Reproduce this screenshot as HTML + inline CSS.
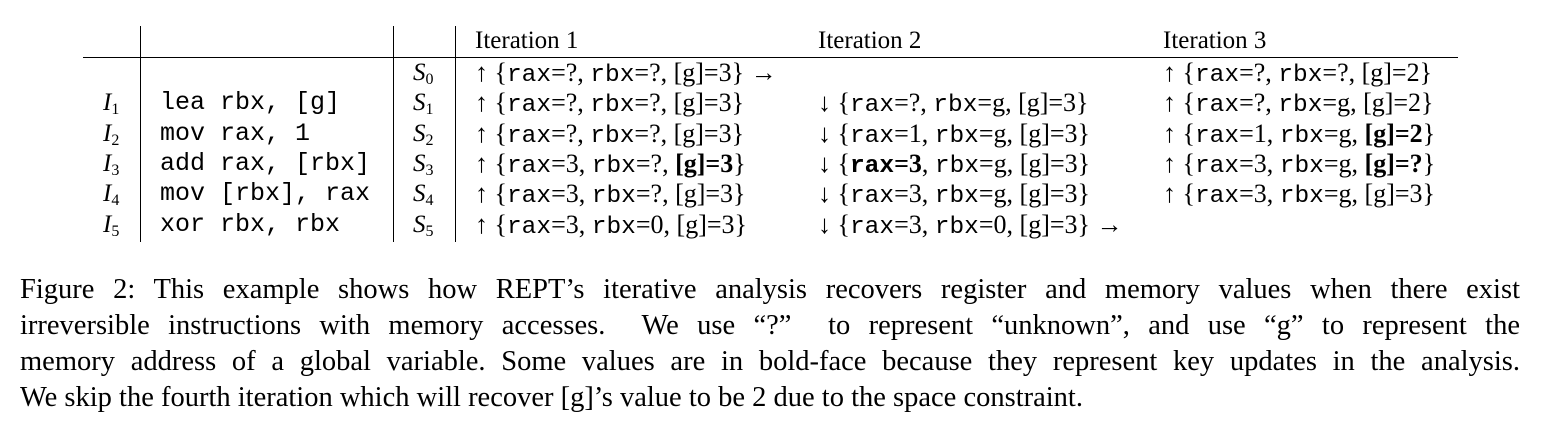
<!DOCTYPE html>
<html><head><meta charset="utf-8"><style>
body{margin:0;width:1545px;height:434px;background:#fff;position:relative;overflow:hidden;font-family:"Liberation Serif",serif;color:#000}
.c{position:absolute;font-size:26px;line-height:30px;white-space:nowrap}
.m{font-family:"Liberation Mono",monospace;font-size:24.5px}
.i{font-style:italic}
sub{font-size:16px;vertical-align:-4px;line-height:0;font-style:normal}
.vl{position:absolute;top:26px;height:216px;width:1.3px;background:#000}
.cap{position:absolute;left:20px;width:1500px;top:272px;font-size:28.5px;line-height:36px}
.cap div{text-align:justify;text-align-last:justify;white-space:nowrap;height:36px}
.cap div.last{text-align-last:left}
</style></head><body>
<div>
<div class="vl" style="left:140px"></div>
<div class="vl" style="left:393px"></div>
<div class="vl" style="left:455px"></div>
<div style="position:absolute;left:83px;width:1375px;top:57px;height:1.3px;background:#000"></div>
<div class="c" style="left:475px;top:26px;font-size:25px">Iteration 1</div>
<div class="c" style="left:818px;top:26px;font-size:25px">Iteration 2</div>
<div class="c" style="left:1163px;top:26px;font-size:25px">Iteration 3</div>
<div id="rows"></div>
</div>
<div class="cap">
<div style="white-space:normal">Figure 2: This example shows how REPT’s iterative analysis recovers register and memory values when there exist</div>
<div style="white-space:normal">irreversible instructions with memory accesses.&nbsp; We use “?”&nbsp; to represent “unknown”, and use “g” to represent the</div>
<div style="white-space:normal">memory address of a global variable. Some values are in bold-face because they represent key updates in the analysis.</div>
<div class="last">We skip the fourth iteration which will recover [g]’s value to be 2 due to the space constraint.</div>
</div>
<script>
const R='<span class="m">rax</span>',B='<span class="m">rbx</span>';
function st(a,ax,bx,g,t){return a+' {'+R+'='+ax+', '+B+'='+bx+', '+g+'}'+(t||'');}
const rows=[
 ['', '', 'S<sub>0</sub>', st('↑','?','?','[g]=3',' →'), '', st('↑','?','?','[g]=2')],
 ['I<sub>1</sub>','lea rbx, [g]','S<sub>1</sub>',st('↑','?','?','[g]=3'),st('↓','?','g','[g]=3'),st('↑','?','g','[g]=2')],
 ['I<sub>2</sub>','mov rax, 1','S<sub>2</sub>',st('↑','?','?','[g]=3'),st('↓','1','g','[g]=3'),st('↑','1','g','<b>[g]=2</b>')],
 ['I<sub>3</sub>','add rax, [rbx]','S<sub>3</sub>',st('↑','3','?','<b>[g]=3</b>'),'↓ {<b><span class="m">rax</span>=3</b>, '+B+'=g, [g]=3}',st('↑','3','g','<b>[g]=?</b>')],
 ['I<sub>4</sub>','mov [rbx], rax','S<sub>4</sub>',st('↑','3','?','[g]=3'),st('↓','3','g','[g]=3'),st('↑','3','g','[g]=3')],
 ['I<sub>5</sub>','xor rbx, rbx','S<sub>5</sub>',st('↑','3','0','[g]=3'),st('↓','3','0','[g]=3',' →'),'']
];
const xs=[103,160,413,475,818,1163];
const host=document.getElementById('rows');
rows.forEach((r,i)=>{r.forEach((t,j)=>{if(!t)return;const d=document.createElement('div');
d.className='c'+(j==1?' m':'')+(j==0||j==2?' i':'');
d.style.left=xs[j]+'px';d.style.top=(58+i*30.3)+'px';
if(j==1){d.style.whiteSpace='pre';d.style.fontSize='25px';}
if(j==0||j==2){d.style.fontSize='25px';}
d.innerHTML=t;


host.appendChild(d);});});
</script>
</body></html>
